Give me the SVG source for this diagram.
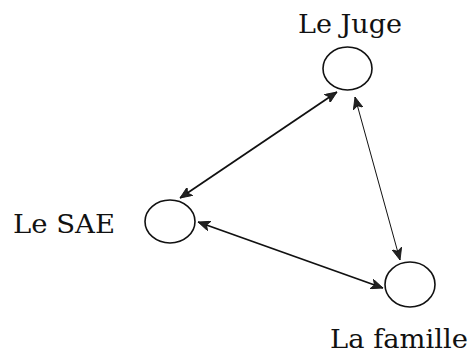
<svg xmlns="http://www.w3.org/2000/svg" width="473" height="358" viewBox="0 0 473 358">
<style>
.node{fill:#fff;stroke:#111;stroke-width:1.6}
.lbl{font-family:"DejaVu Serif","Liberation Serif",serif;font-size:26px;fill:#111}
.edge{stroke:#111;fill:none}
</style>
<defs>
<marker id="ah" viewBox="0 0 12 10" refX="12" refY="5" markerWidth="12" markerHeight="10" markerUnits="userSpaceOnUse" orient="auto-start-reverse">
<path d="M0,0 L12,5 L0,10 L3,5 Z" fill="#222" stroke="#111" stroke-width="0.8"/>
</marker>
</defs>
<rect width="473" height="358" fill="#fff"/>
<g id="connectors">
<line class="edge" stroke-width="1.8" x1="180" y1="198" x2="337" y2="92" marker-start="url(#ah)" marker-end="url(#ah)"/>
<line class="edge" stroke-width="1" x1="355" y1="97" x2="400" y2="260" marker-start="url(#ah)" marker-end="url(#ah)"/>
<line class="edge" stroke-width="1.8" x1="198" y1="222" x2="383" y2="288" marker-start="url(#ah)" marker-end="url(#ah)"/>
</g>
<g id="juge">
<ellipse class="node" cx="347.5" cy="68.5" rx="24.5" ry="21.5"/>
<text class="lbl" x="298" y="33" textLength="104" lengthAdjust="spacingAndGlyphs">Le Juge</text>
</g>
<g id="sae">
<ellipse class="node" cx="170" cy="221.5" rx="25" ry="21.5"/>
<text class="lbl" x="13" y="233" textLength="102" lengthAdjust="spacingAndGlyphs">Le SAE</text>
</g>
<g id="famille">
<ellipse class="node" cx="410" cy="284.5" rx="25" ry="22.5"/>
<text class="lbl" x="330" y="348" textLength="138" lengthAdjust="spacingAndGlyphs">La famille</text>
</g>
</svg>
